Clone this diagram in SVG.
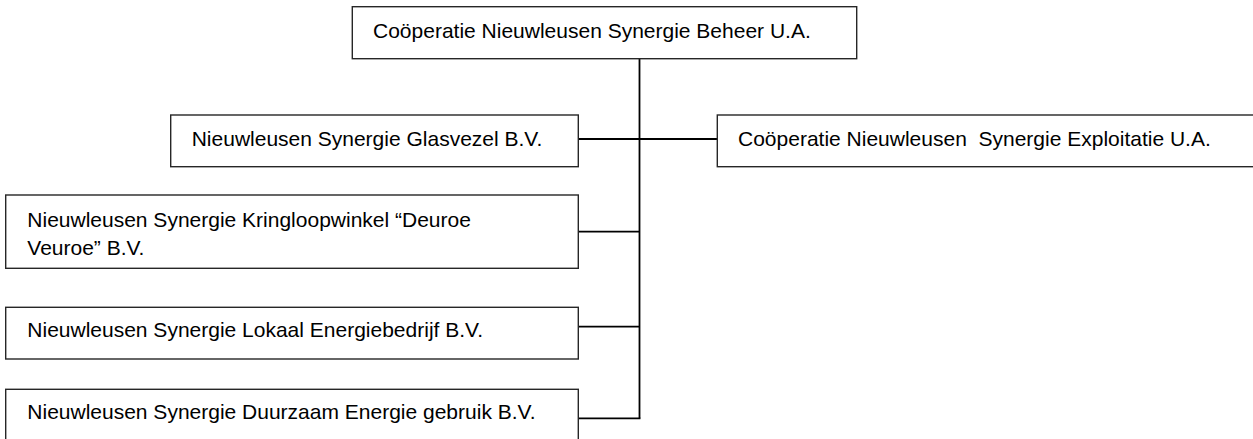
<svg xmlns="http://www.w3.org/2000/svg" width="1253" height="439" viewBox="0 0 1253 439">
<style>
.box{fill:#fff;stroke:#262626;stroke-width:1.4}
.t{font-family:"Liberation Sans",Arial,sans-serif;font-size:21px;fill:#000}
.c{fill:none;stroke:#000;stroke-width:1.8}
</style>
<rect width="1253" height="439" fill="#fff"/>
<g id="connectors">
<line class="c" x1="639.5" y1="58.7" x2="639.5" y2="418.5"/>
<line class="c" x1="578.3" y1="139" x2="717.3" y2="139"/>
<line class="c" x1="578.3" y1="231.7" x2="639.5" y2="231.7"/>
<line class="c" x1="578.3" y1="326.7" x2="639.5" y2="326.7"/>
<line class="c" x1="578.3" y1="418.3" x2="640.4" y2="418.3"/>
</g>
<g id="beheer">
<rect class="box" x="352.3" y="6.7" width="504.4" height="52"/>
<text class="t" x="373" y="37.5">Coöperatie Nieuwleusen Synergie Beheer U.A.</text>
</g>
<g id="glasvezel">
<rect class="box" x="170.7" y="115" width="407.6" height="51.7"/>
<text class="t" x="191.7" y="145.5">Nieuwleusen Synergie Glasvezel B.V.</text>
</g>
<g id="exploitatie">
<rect class="box" x="717.3" y="115" width="545" height="51.7"/>
<text class="t" x="738" y="145.5" xml:space="preserve">Coöperatie Nieuwleusen  Synergie Exploitatie U.A.</text>
</g>
<g id="kringloopwinkel">
<rect class="box" x="5.7" y="195" width="572.6" height="73.3"/>
<text class="t" x="27.3" y="227.3">Nieuwleusen Synergie Kringloopwinkel “Deuroe</text>
<text class="t" x="27.3" y="255">Veuroe” B.V.</text>
</g>
<g id="lokaal">
<rect class="box" x="5.7" y="307.3" width="572.6" height="51.7"/>
<text class="t" x="27.3" y="337">Nieuwleusen Synergie Lokaal Energiebedrijf B.V.</text>
</g>
<g id="duurzaam">
<rect class="box" x="5.7" y="389.3" width="572.6" height="60"/>
<text class="t" x="27.3" y="418.5">Nieuwleusen Synergie Duurzaam Energie gebruik B.V.</text>
</g>
</svg>
